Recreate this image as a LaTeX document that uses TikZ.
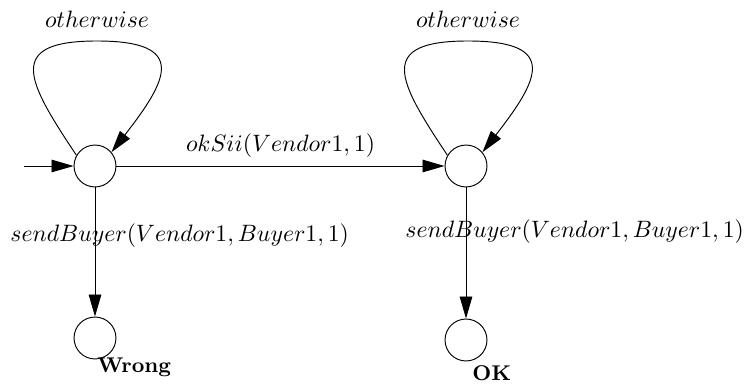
\documentclass[tikz,border=0pt]{standalone}
\usetikzlibrary{arrows.meta}
\begin{document}
\begin{tikzpicture}[x=0.422pt,y=-0.422pt,
		state/.style={circle,draw,minimum size=17.7pt,inner sep=0pt},
		trans/.style={-{Triangle[length=9.3pt,width=5.3pt]}},
		final/.style={font=\small\bfseries,anchor=base west,inner sep=0pt}]
		\useasboundingbox (0,0) rectangle (744,386);
		\node[state] (s0) at (95,166) {};
		\node[state] (s1) at (466,166) {};
		\node[state] (wrong) at (95,338) {};
		\node[state] (ok) at (466,340) {};
		\node[final] (wronglbl) at (97,372) {Wrong};
		\node[final] (oklbl) at (472,380) {OK};
		\coordinate (init) at (24,166);
		\draw[trans] (init) -- (s0);
		\foreach \s in {s0,s1}
			\draw[trans] (\s.150) .. controls +(-50,-75) and +(-92,0) .. ([shift={(2,-125)}]\s.center) node[above=2pt]{$otherwise$} .. controls +(92,0) and +(56,-72) .. (\s.40);
		\draw[trans] (s0) -- node[above]{$okSii(Vendor1,1)$} (s1);
		\draw[trans] (s0) -- node[pos=0.37,anchor=west,xshift=-39.2pt]{$sendBuyer(Vendor1,Buyer1,1)$} (wrong);
		\draw[trans] (s1) -- node[pos=0.34,anchor=west,xshift=-29.1pt]{$sendBuyer(Vendor1,Buyer1,1)$} (ok);
	\end{tikzpicture}
\end{document}
